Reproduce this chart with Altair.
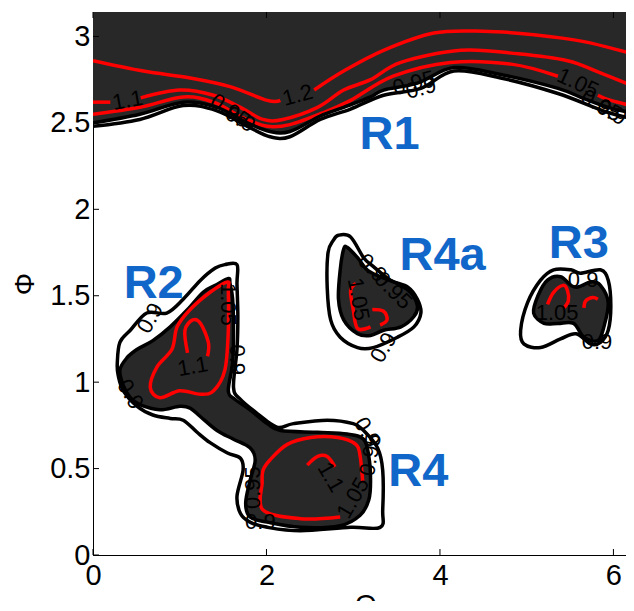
import math
import pandas as pd
import altair as alt

PI = math.pi
W, H = 545, 543
FONT = "Liberation Sans"
DARK = "#282828"
BLUE = "#1167c9"

X_TICKS = [0, 2, 4, 6]
Y_TICKS = [0, 0.5, 1, 1.5, 2, 2.5, 3]
LEVELS = ["0.9", "0.95", "1.05", "1.1", "1.2"]

# ---------------- R1 band (open curves across the Θ range) ----------------
R1_120A_X = [0.00, 0.58, 1.12, 1.58, 2.01, 2.16]
R1_120A_Y = [2.86, 2.80, 2.76, 2.71, 2.63, 2.63]
R1_120B_X = [2.55, 2.89, 3.35, 3.93, 4.50, 5.08, 5.66, 6.29]
R1_120B_Y = [2.69, 2.80, 2.92, 3.02, 3.03, 3.01, 2.97, 2.89]
R1_110A_X = [0.00, 0.20]
R1_110A_Y = [2.62, 2.62]
R1_110B_X = [0.55, 1.00, 1.39, 1.70, 1.96, 2.19, 2.59, 2.89, 3.20, 3.55, 4.24, 4.90, 5.47, 5.85, 6.29]
R1_110B_Y = [2.645, 2.69, 2.66, 2.59, 2.52, 2.52, 2.59, 2.69, 2.75, 2.85, 2.92, 2.90, 2.86, 2.79, 2.70]
R1_105A_X = [0.00, 0.54, 1.04, 1.39, 1.73, 2.01, 2.27, 2.66, 2.97, 3.46, 4.12, 4.82, 5.36]
R1_105A_Y = [2.55, 2.59, 2.65, 2.62, 2.53, 2.48, 2.49, 2.56, 2.63, 2.77, 2.85, 2.84, 2.77]
R1_105B_X = [5.82, 5.97, 6.29]
R1_105B_Y = [2.66, 2.63, 2.59]
R1_095_X = [0.00, 0.54, 1.04, 1.43, 1.78, 2.04, 2.27, 2.62, 2.89, 3.20, 3.35, 3.74, 4.16, 4.70, 5.36, 5.66, 5.94, 6.29]
R1_095_Y = [2.50, 2.55, 2.62, 2.59, 2.50, 2.45, 2.45, 2.54, 2.59, 2.65, 2.69, 2.73, 2.82, 2.78, 2.70, 2.64, 2.59, 2.55]
R1_090_X = [0.00, 0.54, 1.04, 1.43, 1.78, 2.04, 2.27, 2.62, 2.97, 3.35, 3.78, 4.16, 4.70, 5.36, 5.94, 6.29]
R1_090_Y = [2.48, 2.52, 2.60, 2.57, 2.48, 2.42, 2.42, 2.52, 2.58, 2.66, 2.70, 2.80, 2.76, 2.67, 2.56, 2.52]

# ---------------- R2 + R4 (joined by a neck) ----------------
R24_FILL_X = [1.56, 1.41, 1.27, 1.09, 0.89, 0.69, 0.51, 0.39, 0.31, 0.35, 0.43, 0.54, 0.77, 1.00, 1.12,
              1.24, 1.43, 1.62, 1.81, 1.87, 1.81, 1.76, 1.81, 2.01, 2.39, 2.85, 3.08, 3.18, 3.20, 3.18,
              3.12, 2.93, 2.59, 2.16, 2.01, 1.81, 1.64, 1.56, 1.61, 1.62, 1.61, 1.58]
R24_FILL_Y = [1.60, 1.56, 1.52, 1.42, 1.32, 1.24, 1.19, 1.14, 1.07, 0.98, 0.91, 0.87, 0.84, 0.86, 0.85,
              0.80, 0.72, 0.67, 0.62, 0.55, 0.43, 0.30, 0.22, 0.19, 0.16, 0.17, 0.23, 0.32, 0.43, 0.57,
              0.67, 0.70, 0.71, 0.72, 0.76, 0.84, 0.90, 0.95, 1.11, 1.30, 1.48, 1.57]
R24_090_X = [1.66, 1.52, 1.41, 1.24, 1.04, 0.85, 0.62, 0.43, 0.31, 0.28, 0.29, 0.35, 0.51, 0.69, 0.89,
             1.04, 1.20, 1.35, 1.55, 1.70, 1.73, 1.66, 1.70, 1.81, 2.01, 2.39, 2.97, 3.31, 3.34, 3.34,
             3.28, 3.12, 3.00, 2.70, 2.31, 2.12, 1.89, 1.70, 1.62, 1.66, 1.67, 1.66]
R24_090_Y = [1.68, 1.68, 1.66, 1.59, 1.48, 1.40, 1.40, 1.30, 1.23, 1.11, 1.04, 0.95, 0.86, 0.81, 0.79,
             0.78, 0.71, 0.65, 0.59, 0.56, 0.49, 0.34, 0.24, 0.19, 0.16, 0.14, 0.16, 0.16, 0.26, 0.49,
             0.62, 0.72, 0.76, 0.78, 0.76, 0.74, 0.82, 0.90, 0.97, 1.19, 1.38, 1.57]
R2_105_X = [1.55, 1.35, 1.12, 0.97, 0.91, 0.74, 0.66, 0.77, 1.00, 1.24, 1.39, 1.52, 1.56, 1.56]
R2_105_Y = [1.58, 1.52, 1.42, 1.32, 1.19, 1.09, 0.97, 0.91, 0.95, 0.93, 0.95, 1.07, 1.30, 1.53]
R2_110_X = [1.09, 1.06, 1.15, 1.24, 1.33, 1.32]
R2_110_Y = [1.17, 1.30, 1.36, 1.34, 1.23, 1.15]
R4_105_X = [2.85, 2.39, 1.96, 1.95, 1.96, 2.04, 2.24, 2.51, 2.82, 3.03, 3.08, 3.11]
R4_105_Y = [0.22, 0.21, 0.26, 0.42, 0.49, 0.55, 0.64, 0.68, 0.68, 0.64, 0.57, 0.42]
R4_110_X = [2.47, 2.59, 2.70, 2.79]
R4_110_Y = [0.52, 0.57, 0.57, 0.51]

# ---------------- R4a ----------------
R4A_FILL_X = [2.89, 2.85, 2.83, 2.89, 3.05, 3.20, 3.35, 3.55, 3.70, 3.74, 3.66, 3.51, 3.31, 3.16, 3.05, 2.93]
R4A_FILL_Y = [1.77, 1.65, 1.48, 1.36, 1.28, 1.27, 1.30, 1.32, 1.38, 1.44, 1.52, 1.57, 1.61, 1.65, 1.72, 1.78]
R4A_090_X = [2.77, 2.83, 2.97, 3.12, 3.23, 3.43, 3.63, 3.74, 3.78, 3.70, 3.51, 3.23, 3.05, 2.85, 2.74, 2.70, 2.71]
R4A_090_Y = [1.82, 1.85, 1.84, 1.72, 1.67, 1.59, 1.55, 1.48, 1.40, 1.32, 1.26, 1.20, 1.20, 1.26, 1.36, 1.55, 1.75]
R4A_105A_X = [3.03, 2.97, 3.00, 3.05, 3.20]
R4A_105A_Y = [1.57, 1.53, 1.42, 1.31, 1.32]
R4A_105B_X = [3.22, 3.35, 3.39, 3.31]
R4A_105B_Y = [1.42, 1.41, 1.36, 1.33]

# ---------------- R3 ----------------
R3_FILL_X = [5.13, 5.24, 5.39, 5.51, 5.59, 5.74, 5.85, 5.94, 5.89, 5.82, 5.66, 5.54, 5.36, 5.20, 5.08]
R3_FILL_Y = [1.50, 1.59, 1.61, 1.56, 1.55, 1.58, 1.56, 1.46, 1.32, 1.24, 1.26, 1.34, 1.34, 1.34, 1.40]
R3_090_X = [4.97, 4.93, 5.01, 5.16, 5.31, 5.51, 5.62, 5.85, 5.94, 5.97, 5.94, 5.85, 5.74, 5.57, 5.39, 5.16]
R3_090_Y = [1.22, 1.30, 1.46, 1.59, 1.65, 1.65, 1.63, 1.65, 1.59, 1.44, 1.30, 1.23, 1.22, 1.28, 1.25, 1.20]
R3_105A_X = [5.24, 5.31, 5.42, 5.47, 5.48, 5.43]
R3_105A_Y = [1.45, 1.52, 1.56, 1.53, 1.47, 1.43]
R3_105B_X = [5.66, 5.68, 5.76, 5.82]
R3_105B_Y = [1.43, 1.47, 1.49, 1.48]

# ---------------- contour labels ----------------
LABEL_TEXT = ["1.1", "1.2", "0.95", "0.9", "0.95", "0.9", "1.05", "0.95", "0.9",
              "1.1", "1.05", "0.9", "0.9", "0.9",
              "1.1", "1.05", "0.95", "0.9", "0.9", "0.95",
              "0.9", "0.95", "1.05", "0.9",
              "1.05", "0.9", "0.9"]
LABEL_X = [0.40, 2.36, 1.58, 1.70, 3.70, 3.78, 5.59, 5.86, 5.98,
           1.15, 1.56, 0.66, 0.43, 1.66,
           2.74, 3.00, 1.84, 1.93, 3.16, 3.20,
           3.22, 3.46, 3.06, 3.35,
           5.35, 5.81, 5.65]
LABEL_Y = [2.63, 2.66, 2.57, 2.52, 2.73, 2.70, 2.73, 2.60, 2.56,
           1.09, 1.45, 1.37, 0.93, 1.13,
           0.45, 0.33, 0.39, 0.19, 0.71, 0.58,
           1.66, 1.53, 1.48, 1.20,
           1.40, 1.23, 1.59]
LABEL_ANGLE = [350, 345, 35, 30, 345, 345, 25, 30, 30,
               350, 90, 300, 60, 90,
               60, 300, 270, 0, 60, 280,
               45, 45, 80, 300,
               0, 0, 0]

# ---------------- region names ----------------
REGION_NAME = ["R1", "R2", "R3", "R4", "R4a"]
REGION_X = [3.42, 0.70, 5.60, 3.75, 4.03]
REGION_Y = [2.43, 1.57, 1.80, 0.48, 1.73]


def rows(path, level, xs, ys):
    return [{"path": path, "level": level, "seq": i, "x": a, "y": b}
            for i, (a, b) in enumerate(zip(xs, ys))]


open_rows = (rows("r1_120a", "1.2", R1_120A_X, R1_120A_Y) + rows("r1_120b", "1.2", R1_120B_X, R1_120B_Y)
             + rows("r1_110a", "1.1", R1_110A_X, R1_110A_Y) + rows("r1_110b", "1.1", R1_110B_X, R1_110B_Y)
             + rows("r1_105a", "1.05", R1_105A_X, R1_105A_Y) + rows("r1_105b", "1.05", R1_105B_X, R1_105B_Y)
             + rows("r1_095", "0.95", R1_095_X, R1_095_Y) + rows("r1_090", "0.9", R1_090_X, R1_090_Y)
             + rows("r2_110", "1.1", R2_110_X, R2_110_Y)
             + rows("r4_105", "1.05", R4_105_X, R4_105_Y) + rows("r4_110", "1.1", R4_110_X, R4_110_Y)
             + rows("r4a_105a", "1.05", R4A_105A_X, R4A_105A_Y) + rows("r4a_105b", "1.05", R4A_105B_X, R4A_105B_Y)
             + rows("r3_105a", "1.05", R3_105A_X, R3_105A_Y) + rows("r3_105b", "1.05", R3_105B_X, R3_105B_Y))
closed_rows = (rows("r24_090", "0.9", R24_090_X, R24_090_Y) + rows("r2_105", "1.05", R2_105_X, R2_105_Y)
               + rows("r4a_090", "0.9", R4A_090_X, R4A_090_Y) + rows("r3_090", "0.9", R3_090_X, R3_090_Y))
fill_rows = (rows("r24", "0.95", R24_FILL_X, R24_FILL_Y) + rows("r4a", "0.95", R4A_FILL_X, R4A_FILL_Y)
             + rows("r3", "0.95", R3_FILL_X, R3_FILL_Y))

df_open = pd.DataFrame(open_rows)
df_closed = pd.DataFrame(closed_rows)
df_fill = pd.DataFrame(fill_rows)
df_r1 = pd.DataFrame({"x": R1_095_X, "y": R1_095_Y})
df_lab = pd.DataFrame({"x": LABEL_X, "y": LABEL_Y, "t": LABEL_TEXT, "a": LABEL_ANGLE})
df_reg = pd.DataFrame({"x": REGION_X, "y": REGION_Y, "t": REGION_NAME})
df_xt = pd.DataFrame({"x": X_TICKS})
df_yt = pd.DataFrame({"y": Y_TICKS})

x_enc = alt.X("x:Q", scale=alt.Scale(domain=[0, 2 * PI], nice=False, zero=False),
              axis=alt.Axis(values=X_TICKS, title="Θ", format="~g", ticks=False, grid=False,
                            labelPadding=6, titlePadding=1, labelFlush=False))
y_enc = alt.Y("y:Q", scale=alt.Scale(domain=[0, PI], nice=False, zero=False),
              axis=alt.Axis(values=Y_TICKS, title="Φ", format="~g", ticks=False, grid=False,
                            labelPadding=3, titlePadding=10, labelFlush=False))

color_enc = alt.Color("level:N", scale=alt.Scale(domain=LEVELS, range=["black", "black", "red", "red", "red"]),
                      legend=None)
width_enc = alt.StrokeWidth("level:N", scale=alt.Scale(domain=LEVELS, range=[3.5, 3.5, 3, 3, 3]), legend=None)

r1_area = alt.Chart(df_r1).mark_area(color=DARK, interpolate="cardinal", clip=True).encode(
    x=x_enc, y=y_enc, y2=alt.datum(PI))

fills = alt.Chart(df_fill).mark_line(fill=DARK, stroke="black", strokeWidth=3.5,
                                     interpolate="cardinal-closed", clip=True).encode(
    x="x:Q", y="y:Q", detail="path:N", order="seq:Q")

open_lines = alt.Chart(df_open).mark_line(interpolate="cardinal", clip=True).encode(
    x="x:Q", y="y:Q", detail="path:N", order="seq:Q", color=color_enc, strokeWidth=width_enc)

closed_lines = alt.Chart(df_closed).mark_line(interpolate="cardinal-closed", clip=True).encode(
    x="x:Q", y="y:Q", detail="path:N", order="seq:Q", color=color_enc, strokeWidth=width_enc)

labels = alt.Chart(df_lab).mark_text(font=FONT, fontSize=22, color="black", align="center",
                                     baseline="middle").encode(
    x="x:Q", y="y:Q", text="t:N", angle=alt.Angle("a:Q", scale=None))

regions = alt.Chart(df_reg).mark_text(font=FONT, fontSize=47, fontWeight="bold", color=BLUE,
                                      align="center", baseline="middle").encode(
    x="x:Q", y="y:Q", text="t:N")

tick_b = alt.Chart(df_xt).mark_rule(color="black", strokeWidth=1).encode(
    x="x:Q", y=alt.value(H), y2=alt.value(H - 6))
tick_t = alt.Chart(df_xt).mark_rule(color="black", strokeWidth=1).encode(
    x="x:Q", y=alt.value(0), y2=alt.value(6))
tick_l = alt.Chart(df_yt).mark_rule(color="black", strokeWidth=1).encode(
    y="y:Q", x=alt.value(0), x2=alt.value(6))
tick_r = alt.Chart(df_yt).mark_rule(color="black", strokeWidth=1).encode(
    y="y:Q", x=alt.value(W), x2=alt.value(W - 6))

chart = alt.layer(r1_area, fills, open_lines, closed_lines, labels, regions,
                  tick_b, tick_t, tick_l, tick_r).properties(
    width=W, height=H,
    autosize=alt.AutoSizeParams(type="none"),
    padding={"left": 85, "top": 4, "right": -12, "bottom": 46},
).configure_axis(
    labelFont=FONT, labelFontSize=29, labelColor="black",
    titleFont=FONT, titleFontSize=28, titleFontWeight="normal", titleColor="black",
    domainColor="black", domainWidth=1,
).configure_view(stroke="black", strokeWidth=1)

chart.save("out.html", embed_options={"renderer": "svg", "actions": False})
